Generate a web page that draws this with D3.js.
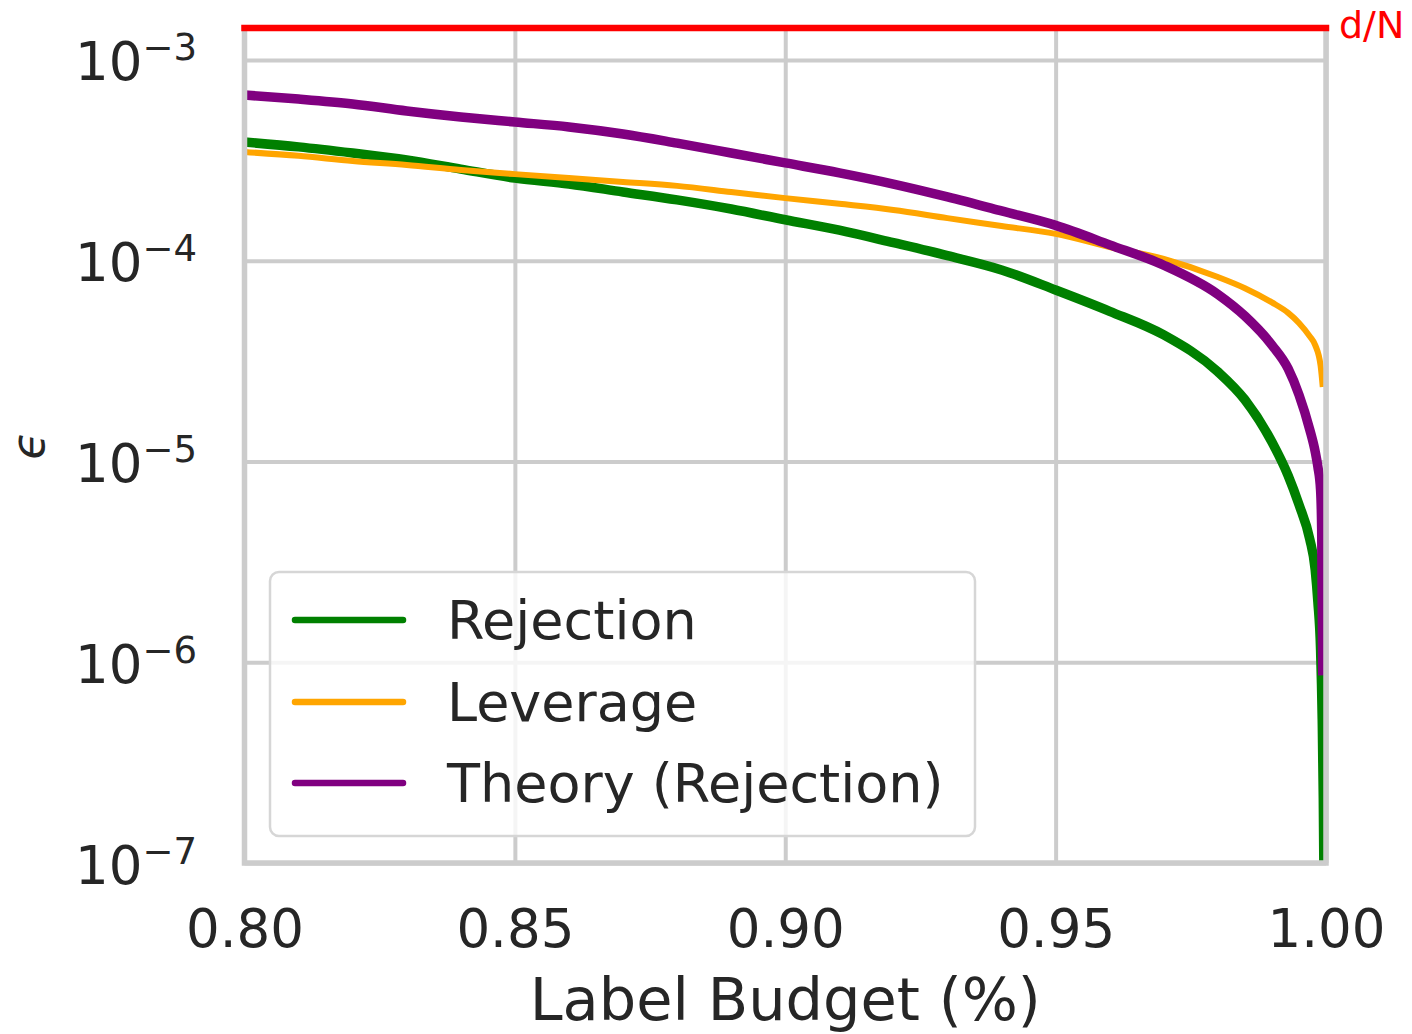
<!DOCTYPE html>
<html>
<head>
<meta charset="utf-8">
<script src="https://cdn.jsdelivr.net/npm/d3@7"></script>
<style>
  html, body { margin: 0; padding: 0; background: #ffffff; }
  svg { display: block; font-family: "DejaVu Sans", sans-serif; }
</style>
</head>
<body>
<svg id="chart" width="1412" height="1034"></svg>
<script>
// ---------------- data ----------------
const xTicks = [0.80, 0.85, 0.90, 0.95, 1.00];
const yTickExps = [-3, -4, -5, -6, -7];
const dOverN = 1.443e-3;          // red reference line (d/N)
const yMin = 1e-7;

const seriesNames = ["Rejection", "Leverage", "Theory (Rejection)"];
const seriesColors = ["#008000", "#ffa500", "#800080"];

const budgetRejection = [0.80, 0.81, 0.82, 0.83, 0.84, 0.85, 0.86, 0.87, 0.88, 0.89,
  0.90, 0.91, 0.92, 0.93, 0.94, 0.95, 0.96, 0.97, 0.98, 0.985,
  0.99, 0.993, 0.995, 0.997, 0.998, 0.9985, 0.999, 0.9993, 0.9995, 0.9996];
const epsRejection = [3.90e-4, 3.69e-4, 3.44e-4, 3.18e-4, 2.86e-4, 2.58e-4, 2.41e-4, 2.20e-4, 2.01e-4, 1.81e-4,
  1.60e-4, 1.42e-4, 1.23e-4, 1.06e-4, 9.0e-5, 7.15e-5, 5.6e-5, 4.27e-5, 2.80e-5, 2.03e-5,
  1.25e-5, 8.5e-6, 6.1e-6, 4.1e-6, 2.9e-6, 2.0e-6, 1.15e-6, 5.2e-7, 2.1e-7, 1.0e-7];

const budgetLeverage = [0.80, 0.81, 0.82, 0.83, 0.84, 0.85, 0.86, 0.87, 0.88, 0.89,
  0.90, 0.91, 0.92, 0.93, 0.94, 0.95, 0.96, 0.97, 0.98, 0.985,
  0.99, 0.993, 0.995, 0.997, 0.998, 0.999, 0.9994];
const epsLeverage = [3.48e-4, 3.33e-4, 3.14e-4, 3.00e-4, 2.83e-4, 2.70e-4, 2.58e-4, 2.47e-4, 2.36e-4, 2.20e-4,
  2.05e-4, 1.92e-4, 1.79e-4, 1.63e-4, 1.49e-4, 1.36e-4, 1.17e-4, 1.02e-4, 8.3e-5, 7.3e-5,
  6.2e-5, 5.5e-5, 4.9e-5, 4.2e-5, 3.8e-5, 3.0e-5, 2.35e-5];

const budgetTheory = [0.80, 0.81, 0.82, 0.83, 0.84, 0.85, 0.86, 0.87, 0.88, 0.89,
  0.90, 0.91, 0.92, 0.93, 0.94, 0.95, 0.96, 0.97, 0.98, 0.985,
  0.99, 0.993, 0.995, 0.997, 0.998, 0.9985, 0.999, 0.9992, 0.9993, 0.9994];
const epsTheory = [6.69e-4, 6.39e-4, 6.04e-4, 5.57e-4, 5.20e-4, 4.91e-4, 4.64e-4, 4.28e-4, 3.85e-4, 3.44e-4,
  3.07e-4, 2.74e-4, 2.41e-4, 2.08e-4, 1.77e-4, 1.50e-4, 1.20e-4, 9.5e-5, 6.8e-5, 5.3e-5,
  3.8e-5, 2.9e-5, 2.15e-5, 1.44e-5, 1.12e-5, 9.4e-6, 7.2e-6, 4.6e-6, 2.0e-6, 8.6e-7];

// ---------------- layout ----------------
const L = 244.5, R = 1326, T = 28, B = 863;
const textColor = "#262626";
const gridColor = "#cccccc";

const svg = d3.select("#chart");
const x = d3.scaleLinear().domain([0.80, 1.00]).range([L, R]);
const y = d3.scaleLog().domain([yMin, dOverN]).range([B, T]);

// x grid + tick labels
const gx = svg.append("g")
  .attr("transform", `translate(0,${B})`)
  .call(d3.axisBottom(x).tickValues(xTicks).tickSize(-(B - T)).tickPadding(46)
    .tickFormat(d3.format(".2f")));
gx.select(".domain").remove();
gx.selectAll(".tick line").attr("stroke", gridColor).attr("stroke-width", 4);
gx.selectAll(".tick text").attr("fill", textColor).attr("font-size", 53)
  .attr("font-family", "DejaVu Sans");

// y grid + tick labels
const gy = svg.append("g")
  .attr("transform", `translate(${L},0)`)
  .call(d3.axisLeft(y).tickValues(yTickExps.map(e => Math.pow(10, e)))
    .tickSize(-(R - L)).tickPadding(47.5).tickFormat(() => ""));
gy.select(".domain").remove();
gy.selectAll(".tick line").attr("stroke", gridColor).attr("stroke-width", 4);
gy.selectAll(".tick text").each(function(d) {
  const t = d3.select(this);
  const e = Math.round(Math.log10(d));
  t.attr("dy", null).attr("y", 20).attr("fill", textColor)
   .attr("font-size", 53).attr("font-family", "DejaVu Sans").text(null);
  t.append("tspan").text("10");
  t.append("tspan").attr("dy", -20).attr("font-size", 37).text("\u2212" + Math.abs(e));
});

// clip
svg.append("defs").append("clipPath").attr("id", "plotclip")
  .append("rect").attr("x", L).attr("y", T).attr("width", R - L).attr("height", B - T);

const lineGen = d3.line().x(d => x(d[0])).y(d => y(d[1])).curve(d3.curveMonotoneX);
const series = [
  { xs: budgetRejection, ys: epsRejection, w: 9.5 },
  { xs: budgetLeverage, ys: epsLeverage, w: 6 },
  { xs: budgetTheory, ys: epsTheory, w: 9.5 }
];
const gLines = svg.append("g").attr("clip-path", "url(#plotclip)");
series.forEach((s, i) => {
  gLines.append("path")
    .datum(s.xs.map((v, k) => [v, s.ys[k]]))
    .attr("fill", "none")
    .attr("stroke", seriesColors[i])
    .attr("stroke-width", s.w)
    .attr("stroke-linejoin", "round")
    .attr("d", lineGen);
});

// spines
svg.append("rect").attr("x", L).attr("y", T).attr("width", R - L).attr("height", B - T)
  .attr("fill", "none").attr("stroke", gridColor).attr("stroke-width", 5.5);

// d/N red line
svg.append("line")
  .attr("x1", x(0.80)).attr("x2", x(1.00))
  .attr("y1", y(dOverN)).attr("y2", y(dOverN))
  .attr("stroke", "#ff0000").attr("stroke-width", 6.5).attr("stroke-linecap", "square");
svg.append("text").attr("x", 1339).attr("y", 38)
  .attr("fill", "#ff0000").attr("font-size", 38).text("d/N");

// axis labels
svg.append("text").attr("x", (L + R) / 2).attr("y", 1020)
  .attr("text-anchor", "middle").attr("fill", textColor).attr("font-size", 59)
  .text("Label Budget (%)");
svg.append("text")
  .attr("transform", `translate(44,${(T + B) / 2}) rotate(-90)`)
  .attr("text-anchor", "middle").attr("fill", textColor).attr("font-size", 46)
  .attr("font-style", "italic").text("\u03f5");

// legend
const lg = svg.append("g");
lg.append("rect").attr("x", 270).attr("y", 572).attr("width", 705).attr("height", 264)
  .attr("rx", 9).attr("fill", "#ffffff").attr("fill-opacity", 0.8)
  .attr("stroke", "#d6d6d6").attr("stroke-width", 2.5);
const legendY = [620, 702, 783];
seriesNames.forEach((name, i) => {
  lg.append("line").attr("x1", 295).attr("x2", 403)
    .attr("y1", legendY[i]).attr("y2", legendY[i])
    .attr("stroke", seriesColors[i]).attr("stroke-width", 6.5).attr("stroke-linecap", "round");
  lg.append("text").attr("x", 447).attr("y", legendY[i] + 19)
    .attr("fill", textColor).attr("font-size", 54).text(name);
});
</script>
</body>
</html>
